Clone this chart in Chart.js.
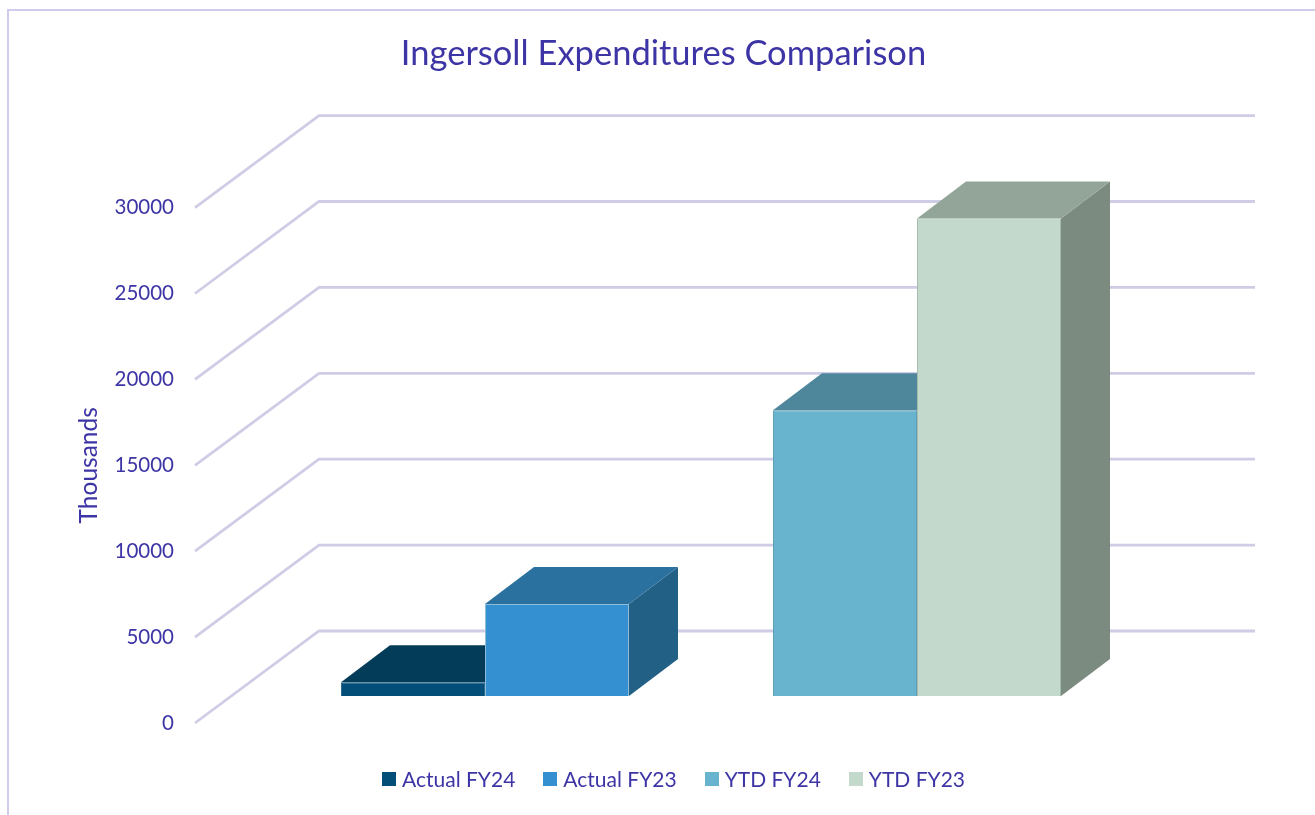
<!DOCTYPE html>
<html>
<head>
<meta charset="utf-8">
<title>Ingersoll Expenditures Comparison</title>
<script src="https://cdn.jsdelivr.net/npm/chart.js@4"></script>
<style>
  html, body { margin: 0; padding: 0; background: #fff; overflow: hidden; }
  #frame { position: absolute; left: 7px; top: 9px; right: -4px; bottom: -4px;
           border-top: 2px solid #cfcdeb; border-left: 2px solid #cfcdeb; }
  canvas { position: absolute; left: 0; top: 0; }
  #legend { position: absolute; left: 382px; top: 766px; display: flex;
            font: 21px Lato, sans-serif; color: #3d35a5; line-height: 26px; }
  #legend .item { margin-right: 28px; display: flex; align-items: center; white-space: nowrap; }
  #legend .box { width: 14px; height: 14px; margin-right: 6px; }
</style>
</head>
<body>
<div id="frame"></div>
<canvas id="chart" width="1315" height="815"></canvas>
<div id="legend"></div>
<script>
const categories = ["Actual", "YTD"];
const actualFY24 = [800, null];
const actualFY23 = [5350, null];
const ytdFY24 = [null, 16630];
const ytdFY23 = [null, 27790];
const tickLabels = [0, 5000, 10000, 15000, 20000, 25000, 30000];

const TEXT = "#3d35a5";
const GRID = "#cfcce5";

// fake 3D: wall depth for the grid, box depth for the bars (px)
const WALL = { dx: 124, dy: -92 };
const BOX = { dx: 49, dy: -37 };

const faces = [
  { top: "#033c59", side: "#033c59" },
  { top: "#2a719f", side: "#236086" },
  { top: "#4e879c", side: "#4e879c" },
  { top: "#93a598", side: "#7c8b7f" },
];

function poly(ctx, pts, color) {
  ctx.beginPath();
  pts.forEach((p, i) => i ? ctx.lineTo(p[0], p[1]) : ctx.moveTo(p[0], p[1]));
  ctx.closePath();
  ctx.fillStyle = color;
  ctx.fill();
}

const depth3d = {
  id: "depth3d",
  beforeDatasetsDraw(chart) {
    const { ctx, scales } = chart;
    const ax = scales.yTicks;
    const left = ax.right - 74;
    const right = 1255;

    ctx.save();
    ctx.strokeStyle = GRID;
    ctx.lineWidth = 2.8;
    tickLabels.forEach(v => {
      const y = ax.getPixelForValue(v);
      ctx.beginPath();
      ctx.moveTo(left, y);
      ctx.lineTo(left + WALL.dx, y + WALL.dy);
      ctx.lineTo(right, y + WALL.dy);
      ctx.stroke();
    });

    // tops and right sides, the library draws the front faces over them
    chart.data.datasets.forEach((ds, i) => {
      chart.getDatasetMeta(i).data.forEach((bar, j) => {
        if (ds.data[j] === null) return;
        const x0 = bar.x - bar.width / 2;
        const x1 = bar.x + bar.width / 2;
        const y0 = bar.y;
        const y1 = bar.base;
        poly(ctx, [[x1, y0], [x1 + BOX.dx, y0 + BOX.dy], [x1 + BOX.dx, y1 + BOX.dy], [x1, y1]], faces[i].side);
        poly(ctx, [[x0, y0], [x1, y0], [x1 + BOX.dx, y0 + BOX.dy], [x0 + BOX.dx, y0 + BOX.dy]], faces[i].top);
      });
    });
    ctx.restore();
  },
};

function barSet(label, data, color, edge) {
  return {
    label, data, yAxisID: "y",
    backgroundColor: color,
    borderColor: edge,
    borderWidth: 1,
    barPercentage: 1,
    categoryPercentage: 0.6667,
  };
}

const chart = new Chart(document.getElementById("chart"), {
  type: "bar",
  plugins: [depth3d],
  data: {
    labels: categories,
    datasets: [
      barSet("Actual FY24", actualFY24, "#034e78", "#2c6b8f"),
      barSet("Actual FY23", actualFY23, "#3490d0", "#8fbcd9"),
      barSet("YTD FY24", ytdFY24, "#68b3cd", "#5f9fb5"),
      barSet("YTD FY23", ytdFY23, "#c2d9cb", "#a5bdae"),
    ],
  },
  options: {
    responsive: false,
    animation: false,
    skipNull: true,
    layout: { padding: { left: 12, right: 0, top: 0, bottom: 92 } },
    plugins: {
      tooltip: { enabled: false },
      legend: { display: false },
      title: {
        display: true,
        text: "Ingersoll Expenditures Comparison",
        color: TEXT,
        font: { family: "Lato", size: 34.5, weight: "normal" },
        padding: { top: 33, bottom: 133.2 },
      },
    },
    scales: {
      x: { display: false },
      // tick axis sits on the front edge of the floor
      yTicks: {
        position: "left",
        min: 0,
        max: 30000,
        afterFit(s) { s.width = 257; },
        // long invisible tick marks push the labels out, ticks.padding would eat into the plot height
        grid: { display: false, tickLength: 95 },
        border: { display: false },
        ticks: {
          stepSize: 5000,
          color: TEXT,
          font: { family: "Lato", size: 20.5 },
          padding: 0,
          callback: v => String(v),
        },
        title: {
          display: true,
          text: "Thousands",
          color: TEXT,
          font: { family: "Lato", size: 24.5 },
          padding: { top: 62, bottom: 0 },
        },
      },
      // bar axis is pushed up by the floor depth, 0 lands at y=696
      y: {
        position: "right",
        min: -1570,
        max: 28430,
        afterFit(s) { s.width = 182; },
        grid: { display: false },
        border: { display: false },
        ticks: { display: false },
      },
    },
  },
});

// legend gets a tighter box-to-text gap than the built-in one, so it is html built from the datasets
document.getElementById("legend").innerHTML = chart.data.datasets.map(ds => `
  <div class="item"><span class="box" style="background:${ds.backgroundColor}"></span>${ds.label}</div>
`).join("");
</script>
</body>
</html>
